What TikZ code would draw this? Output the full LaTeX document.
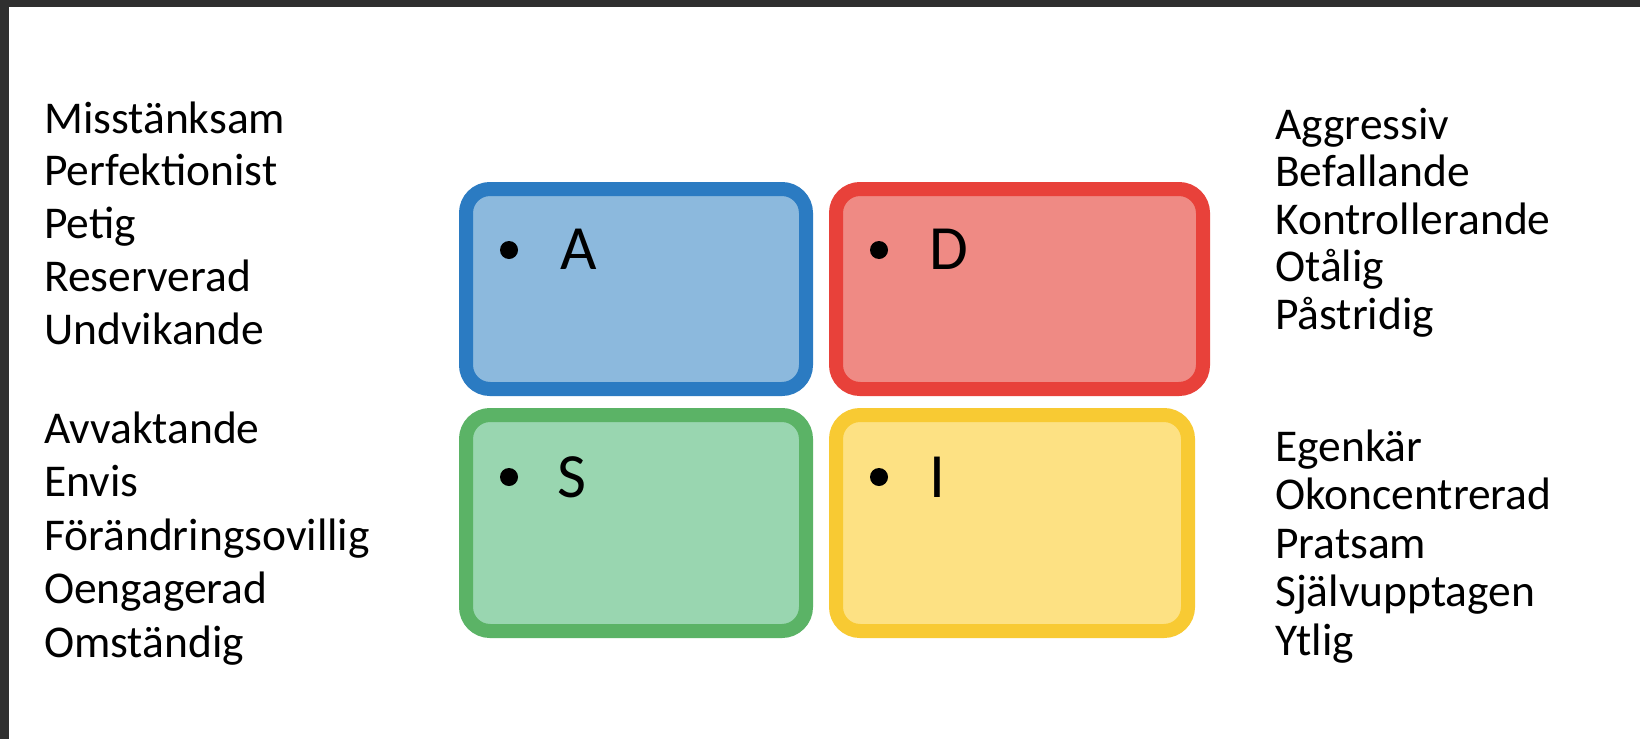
\documentclass[tikz,border=0pt]{standalone}
\usepackage{fontspec}
\setmainfont{Carlito}
\definecolor{frame}{HTML}{2F2F2F}
\definecolor{Afill}{HTML}{8CB9DD}
\definecolor{Aline}{HTML}{2B7BC2}
\definecolor{Dfill}{HTML}{EF8A84}
\definecolor{Dline}{HTML}{E8413A}
\definecolor{Sfill}{HTML}{99D6B0}
\definecolor{Sline}{HTML}{5BB366}
\definecolor{Ifill}{HTML}{FDE183}
\definecolor{Iline}{HTML}{F8CA33}
\begin{document}
\begin{tikzpicture}[x=1pt,y=-1pt,
  lst/.style={anchor=base west, inner sep=0pt, font=\fontsize{45.5}{53}\selectfont},
  letter/.style={anchor=base west, inner sep=0pt, font=\fontsize{63}{70}\selectfont},
  quad/.style={rectangle, rounded corners=24pt, line width=14pt, inner sep=0pt},
  dot/.style={circle, fill=black, minimum size=18pt, inner sep=0pt}]
\useasboundingbox (0,0) rectangle (1640,739);
\fill[white] (0,0) rectangle (1640,739);
\fill[frame] (0,0) rectangle (1640,7);
\fill[frame] (0,0) rectangle (8.5,739);

\node[quad, draw=Aline, fill=Afill, minimum width=340pt, minimum height=200pt] (A) at (636,289) {};
\node[quad, draw=Dline, fill=Dfill, minimum width=367pt, minimum height=200pt] (D) at (1019.5,289) {};
\node[quad, draw=Sline, fill=Sfill, minimum width=340pt, minimum height=216pt] (S) at (636,523) {};
\node[quad, draw=Iline, fill=Ifill, minimum width=352pt, minimum height=216pt] (I) at (1012,523) {};

\node[dot] (Ab) at (509,250) {};
\node[dot] (Db) at (879,250) {};
\node[dot] (Sb) at (509,477) {};
\node[dot] (Ib) at (879,477) {};
\node[letter] (At) at (560,269) {A};
\node[letter] (Dt) at (929,269) {D};
\node[letter] (St) at (557,497) {S};
\node[letter] (It) at (929,497) {I};

\foreach \t [count=\k from 0] in {Misstänksam,Perfektionist,Petig,Reserverad,Undvikande}
  \node[lst] (lt\k) at (44,133+52.8*\k) {\t};
\foreach \t [count=\k from 0] in {Avvaktande,Envis,Förändringsovillig,Oengagerad,Omständig}
  \node[lst] (lb\k) at (44,443+53.5*\k) {\t};
\foreach \t [count=\k from 0] in {Aggressiv,Befallande,Kontrollerande,Otålig,Påstridig}
  \node[lst] (rt\k) at (1275,139+47.5*\k) {\t};
\foreach \t [count=\k from 0] in {Egenkär,Okoncentrerad,Pratsam,Självupptagen,Ytlig}
  \node[lst] (rb\k) at (1275,461+48.5*\k) {\t};
\end{tikzpicture}
\end{document}
